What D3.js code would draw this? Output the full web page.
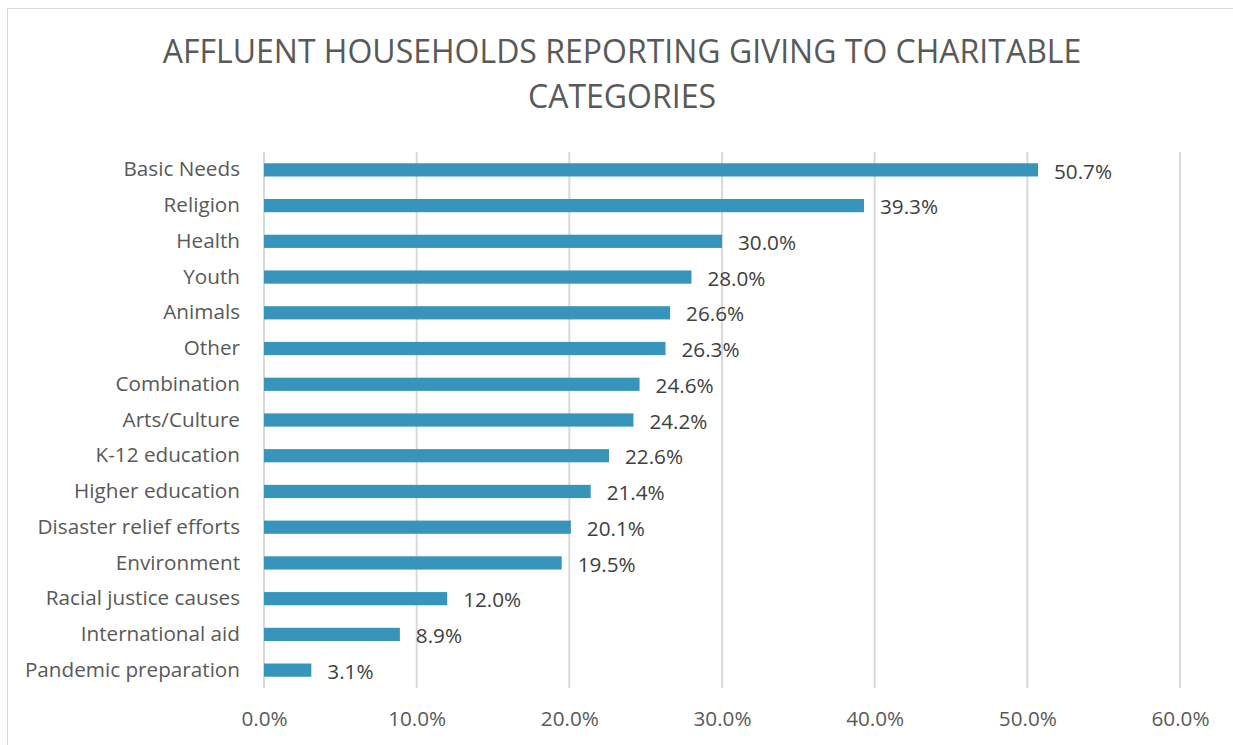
<!DOCTYPE html>
<html>
<head>
<meta charset="utf-8">
<script src="https://cdn.jsdelivr.net/npm/d3@7"></script>
<style>
  body { margin: 0; background: #fff; }
  svg { font-family: "Open Sans", sans-serif; }
</style>
</head>
<body>
<div id="chart"></div>
<script>
const categories = ["Basic Needs", "Religion", "Health", "Youth", "Animals", "Other", "Combination",
    "Arts/Culture", "K-12 education", "Higher education", "Disaster relief efforts", "Environment",
    "Racial justice causes", "International aid", "Pandemic preparation"]
const values = [50.7, 39.3, 30.0, 28.0, 26.6, 26.3, 24.6, 24.2, 22.6, 21.4, 20.1, 19.5, 12.0, 8.9, 3.1]
const ticks = [0, 10, 20, 30, 40, 50, 60]
const titleLines = ["AFFLUENT HOUSEHOLDS REPORTING GIVING TO CHARITABLE", "CATEGORIES"]

const width = 1233, height = 745
const margin = {top: 152, right: 53, bottom: 57, left: 264}

const svg = d3.select("#chart")
    .append("svg")
    .attr("width", width)
    .attr("height", height)

// chart border (runs off the right and bottom edges)
svg.append("rect")
    .attr("x", 7.5).attr("y", 8.5)
    .attr("width", 1240).attr("height", 760)
    .style("fill", "none")
    .style("stroke", "#d9d9d9")

svg.selectAll(".title")
    .data(titleLines)
    .enter()
    .append("text")
    .attr("x", 622)
    .attr("y", (d, i) => 63 + i * 45)
    .style("text-anchor", "middle")
    .style("font-size", "32px")
    .style("fill", "#595959")
    .text(d => d)

const x = d3.scaleLinear()
    .domain([0, 60])
    .range([margin.left, width - margin.right])

const y = d3.scaleBand()
    .domain(categories)
    .range([margin.top, height - margin.bottom])
    .paddingInner(0.63)
    .paddingOuter(0.315)

//Gridlines
svg.selectAll(".grid")
    .data(ticks)
    .enter()
    .append("line")
    .attr("x1", d => x(d)).attr("x2", d => x(d))
    .attr("y1", margin.top).attr("y2", height - margin.bottom)
    .style("stroke", "#d9d9d9")
    .style("stroke-width", 2)

//Bottom axis labels
const xAxis = svg.append("g")
    .attr("transform", "translate(0," + (height - margin.bottom) + ")")
    .call(d3.axisBottom(x).tickValues(ticks).tickSize(0).tickPadding(23).tickFormat(d => d.toFixed(1) + "%"))
xAxis.select(".domain").remove()
xAxis.selectAll("text")
    .style("font-family", "Open Sans, sans-serif")
    .style("font-size", "20.7px")
    .style("fill", "#595959")

//Category labels
const yAxis = svg.append("g")
    .attr("transform", "translate(" + margin.left + ",0)")
    .call(d3.axisLeft(y).tickSize(0).tickPadding(24))
yAxis.select(".domain").remove()
yAxis.selectAll("text")
    .style("font-family", "Open Sans, sans-serif")
    .style("font-size", "20.7px")
    .style("fill", "#595959")

const data = categories.map((c, i) => ({name: c, value: values[i]}))

//Bars
svg.selectAll(".bar")
    .data(data)
    .enter()
    .append("rect")
    .attr("x", x(0))
    .attr("y", d => y(d.name))
    .attr("width", d => x(d.value) - x(0))
    .attr("height", y.bandwidth())
    .style("fill", "#3795bc")

//Value labels
svg.selectAll(".val")
    .data(data)
    .enter()
    .append("text")
    .attr("x", d => x(d.value) + 16)
    .attr("y", d => y(d.name) + y.bandwidth() / 2)
    .attr("dy", "0.42em")
    .style("font-size", "20.7px")
    .style("fill", "#404040")
    .text(d => d.value.toFixed(1) + "%")
</script>
</body>
</html>
